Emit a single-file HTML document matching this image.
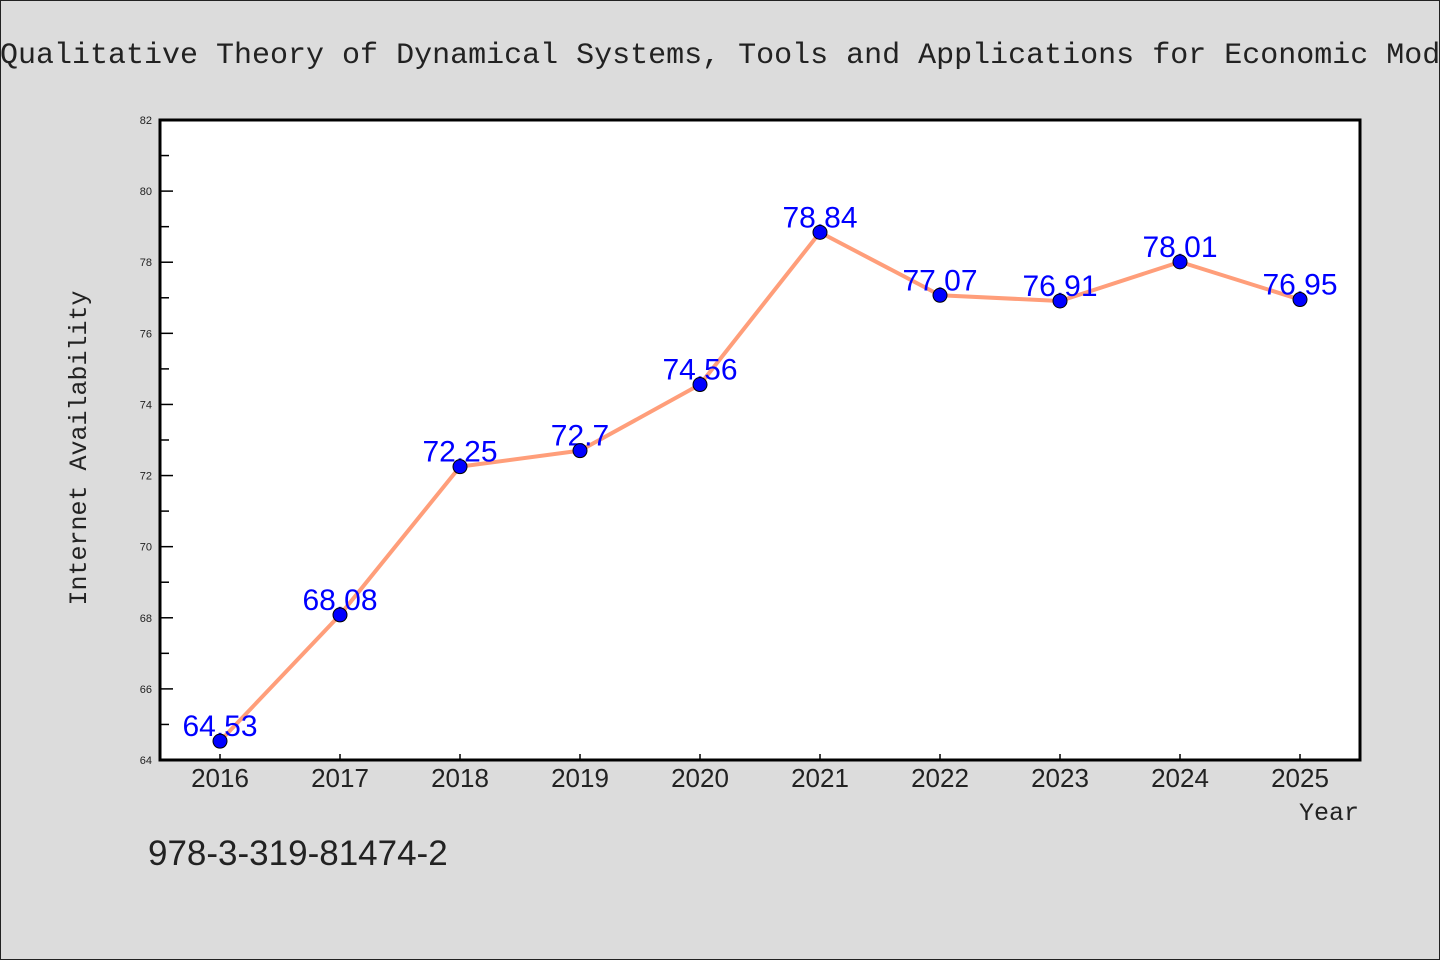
<!DOCTYPE html>
<html><head><meta charset="utf-8"><style>
body{margin:0;background:#dcdcdc;}
svg{display:block;font-family:"Liberation Sans",sans-serif;}
.mono{font-family:"Liberation Mono",monospace;}
</style></head><body>
<svg width="1440" height="960" xmlns="http://www.w3.org/2000/svg">
<rect x="0.5" y="0.5" width="1439" height="959" fill="#dcdcdc" stroke="#222"/>
<text class="mono" x="0" y="63" font-size="30" fill="#222">Qualitative Theory of Dynamical Systems, Tools and Applications for Economic Modelling</text>
<rect x="160" y="120" width="1200" height="640" fill="#fff"/>
<g id="axes"></g>
<g id="series"></g>
<rect x="160" y="120" width="1200" height="640" fill="none" stroke="#000" stroke-width="3"/>
<text class="mono" x="86" y="448" font-size="25" text-anchor="middle" fill="#222" transform="rotate(-90 86 448)">Internet Availability</text>
<text class="mono" x="1359" y="820" font-size="25" text-anchor="end" fill="#222">Year</text>
<text x="148" y="865" font-size="35" fill="#222">978-3-319-81474-2</text>
</svg>
<script>
const years=["2016","2017","2018","2019","2020","2021","2022","2023","2024","2025"];
const values=[64.53,68.08,72.25,72.7,74.56,78.84,77.07,76.91,78.01,76.95];
const labels=["64.53","68.08","72.25","72.7","74.56","78.84","77.07","76.91","78.01","76.95"];
const yTicks=[64,66,68,70,72,74,76,78,80,82];
const NS="http://www.w3.org/2000/svg";
const X0=160,X1=1360,Y0=760,Y1=120,YMIN=64,YMAX=82;
function xs(i){return X0+(X1-X0)*(i+0.5)/years.length;}
function ys(v){return Y0-(v-YMIN)/(YMAX-YMIN)*(Y0-Y1);}
function mk(tag,at,parent){const e=document.createElementNS(NS,tag);for(const k in at)e.setAttribute(k,at[k]);parent.appendChild(e);return e;}
const axes=document.getElementById('axes'),series=document.getElementById('series');
yTicks.forEach((t,i)=>{
  const y=ys(t);
  const l=mk('line',{x1:X0,x2:X0+13,y1:y,y2:y,stroke:'#000','stroke-width':1.5},axes);
  
  
  const tx=mk('text',{x:X0-8,y:y+4,'font-size':11,'text-anchor':'end',fill:'#222'},axes);
  tx.textContent=t;
  
  
  if(i<yTicks.length-1){
    const ym=ys(t+1);
    const m=mk('line',{x1:X0,x2:X0+9,y1:ym,y2:ym,stroke:'#000','stroke-width':1.5},axes);
    
    
  }
});
years.forEach((yr,i)=>{
  const x=xs(i);
  const l=mk('line',{x1:x,x2:x,y1:Y0,y2:Y0-6,stroke:'#000','stroke-width':1.5},axes);
  
  
  const tx=mk('text',{x:x,y:Y0+27,'font-size':26,'text-anchor':'middle',fill:'#222'},axes);
  tx.textContent=yr;
  
  
});
const pl=mk('polyline',{points:values.map((v,i)=>xs(i)+','+ys(v)).join(' '),fill:'none',stroke:'#ff9e7a','stroke-width':4,'stroke-linejoin':'round'},series);


values.forEach((v,i)=>{
  const tx=mk('text',{x:xs(i),y:ys(v)-5,'font-size':30,'text-anchor':'middle',fill:'#0000ff'},series);
  tx.textContent=labels[i];
  
  
});
values.forEach((v,i)=>{
  const c=mk('circle',{cx:xs(i),cy:ys(v),r:7,fill:'#0000ff',stroke:'#000','stroke-width':1},series);
  
  
});
</script>
</body></html>
